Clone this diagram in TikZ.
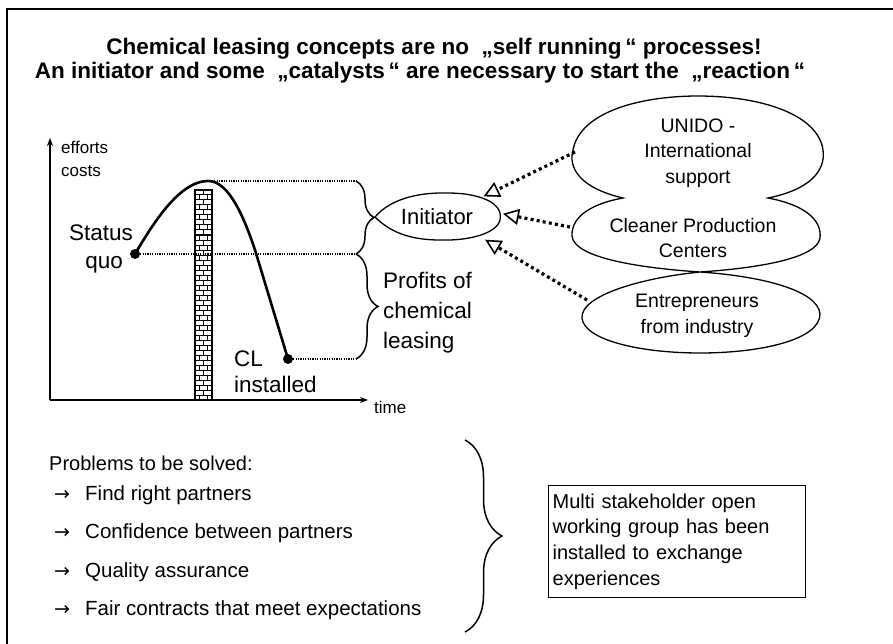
\documentclass[tikz,border=0pt]{standalone}
\usepackage{fontspec}
\setmainfont{Liberation Sans}
\newfontfamily\dejavu{DejaVu Sans}
\usetikzlibrary{arrows.meta,decorations.pathreplacing,shapes.geometric}
\tikzset{
  titletxt/.style={font=\fontsize{22.5}{26}\bfseries\selectfont, inner sep=0pt},
  txt/.style={inner sep=0pt, align=left},
  ctxt/.style={inner sep=0pt, align=center},
  axis/.style={line width=1.8pt, -{Stealth[length=8pt,width=6pt]}},
  curve/.style={line width=2.6pt},
  guide/.style={line width=1.2pt, dash pattern=on 1.2pt off 1.2pt},
  bracestyle/.style={line width=1.5pt, decorate, decoration={brace, amplitude=#1}},
  feed/.style={line width=3.2pt, dash pattern=on 3pt off 3.2pt, -{Triangle[open, length=16pt, width=16pt, line width=1.6pt, sep=0pt]}},
  dotpt/.style={circle, fill=black, inner sep=0pt, minimum size=10pt},
  mortar/.style={line width=1pt},
}
\begin{document}
\begin{tikzpicture}[x=1pt,y=-1pt]
\useasboundingbox (0,0) rectangle (893,644);
\clip (0,0) rectangle (893,644);
% frame
\draw[line width=1.2pt] (7,9) rectangle (905,655);
% title
\node[titletxt] (t1) at (434,49) {Chemical leasing concepts are no\ \ „self running\,“ processes!};
\node[titletxt] (t2) at (420,73) {An initiator and some\ \ „catalysts\,“ are necessary to start the\ \ „reaction\,“};
% axes
\coordinate (origin) at (50,400);
\coordinate (ytop) at (50,138);
\coordinate (xend) at (368,400);
\draw[axis] (origin) -- (ytop);
\draw[axis] (origin) -- (xend);
\node[txt, anchor=west, font=\fontsize{17}{23}\selectfont] (effort) at (61,159) {efforts\\costs};
\node[txt, anchor=west, font=\fontsize{17}{20}\selectfont] (time) at (374,407) {time};
% bricks column
\draw[line width=1.2pt, fill=white] (195,190) rectangle (212,400);
\foreach \k in {0,...,41} {
  \pgfmathsetmacro\ya{190+5*\k}
  \pgfmathsetmacro\yb{195+5*\k}
  \draw[mortar] (195,\yb) -- (212,\yb);
  \ifodd\k
    \draw[mortar] (199.5,\ya) -- (199.5,\yb);
    \draw[mortar] (207.5,\ya) -- (207.5,\yb);
  \else
    \draw[mortar] (203.5,\ya) -- (203.5,\yb);
  \fi
}
% key points
\node[dotpt] (sq) at (135,254) {};
\coordinate (peak) at (207,181);
\node[dotpt] (cl) at (288,359) {};
\coordinate (gpeak) at (356,181);
\coordinate (gsq) at (356,254);
\coordinate (gcl) at (356,359);
\draw[guide] (peak) -- (gpeak);
\draw[guide] (sq) -- (gsq);
\draw[guide] (cl) -- (gcl);
\draw[curve] (sq.center) .. controls (155,220) and (180,182) .. (peak)
   .. controls (225,180) and (240,205) .. (255,250) -- (cl.center);
\node[ctxt, font=\fontsize{22.5}{28}\selectfont] (statusquo) at (101,249) {Status\\\ quo};
\node[txt, anchor=west, font=\fontsize{22.5}{26}\selectfont] (clinst) at (234,372) {CL\\installed};
% braces
\draw[bracestyle=18pt] (gpeak) -- (gsq);
\draw[bracestyle=22pt] (gsq) -- (gcl);
\node[txt, anchor=west, font=\fontsize{22.5}{30}\selectfont] (profits) at (383,313) {Profits of\\chemical\\leasing};
% initiator
\node[ellipse, minimum width=126pt, minimum height=48pt, inner sep=0pt] (init) at (437,216) {};
\draw[line width=1.3pt] (375,217) .. controls (392,197) and (425,190) .. (465,194)
  .. controls (492,198) and (503,208) .. (500,220)
  .. controls (497,233) and (470,241) .. (440,240)
  .. controls (410,240) and (390,232) .. (375,217) -- cycle;
\node[font=\fontsize{22}{24}\selectfont, inner sep=0pt] (inittxt) at (437,217) {Initiator};
% cloud
\draw[line width=1.3pt, fill=white] (623,198)
  .. controls (580,188) and (568,168) .. (573,150)
  .. controls (580,112) and (640,96) .. (698,96)
  .. controls (760,96) and (818,114) .. (823,150)
  .. controls (826,172) and (808,190) .. (768,198)
  .. controls (805,205) and (822,220) .. (820,238)
  .. controls (817,258) and (760,268) .. (700,272)
  .. controls (760,276) and (818,290) .. (820,314)
  .. controls (820,340) and (760,353) .. (700,353)
  .. controls (640,353) and (584,340) .. (582,318)
  .. controls (580,296) and (640,278) .. (700,272)
  .. controls (640,268) and (574,258) .. (572,236)
  .. controls (571,215) and (595,203) .. (623,198) -- cycle;
\node[ctxt, font=\fontsize{19.5}{25.5}\selectfont] (unido) at (698,153) {UNIDO -\\International\\support};
\node[ctxt, font=\fontsize{19.5}{25.5}\selectfont] (cpc) at (693,238) {Cleaner\ Production\\Centers};
\node[ctxt, font=\fontsize{19.5}{25.5}\selectfont] (entr) at (697,316) {Entrepreneurs\\from industry};
\coordinate (unidoL) at (575,152);
\coordinate (cpcL) at (570,227);
\coordinate (entrL) at (587,300);
\draw[feed] (unidoL) -- ([xshift=3pt,yshift=2pt]init.22);
\draw[feed] (cpcL) -- ([xshift=3pt]init.2);
\draw[feed] (entrL) -- ([xshift=8pt,yshift=-5pt]init.-25);
% problems
\node[txt, anchor=west, font=\fontsize{20}{22}\selectfont] (probs) at (49,463) {Problems to be solved:};
\foreach \n/\yy/\t in {p1/495/Find right partners, p2/533/Confidence between partners, p3/572/Quality assurance, p4/610/Fair contracts that meet expectations} {
  \node[txt, anchor=west, font=\fontsize{19}{22}\dejavu] (\n a) at (54,\yy) {→};
  \node[txt, anchor=west, font=\fontsize{20.5}{22}\selectfont] (\n) at (85,\yy) {\t};
}
% big brace
\coordinate (bbtop) at (465,440);
\coordinate (bbbot) at (465,632);
\draw[bracestyle=37pt] (bbtop) -- (bbbot);
% box
\node[draw, line width=1.3pt, anchor=north west, minimum width=257pt, minimum height=112pt, text width=249pt, align=left, inner sep=4pt, font=\fontsize{20}{25.7}\selectfont] (box) at (548,485) {Multi stakeholder open\\working group has been\\installed to exchange\\experiences};
\end{tikzpicture}
\end{document}
